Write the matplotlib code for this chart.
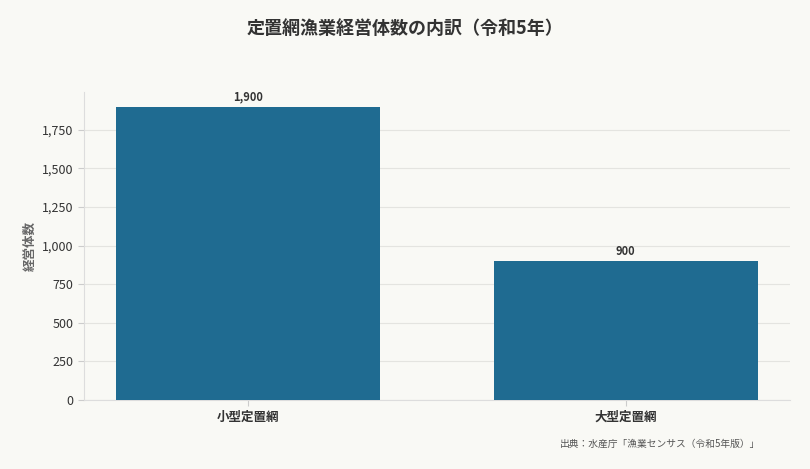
import matplotlib.pyplot as plt

plt.rcParams['font.family'] = ['Noto Sans CJK JP', 'DejaVu Sans']

categories = ['小型定置網', '大型定置網']
counts = [1900, 900]

fig = plt.figure(figsize=(8.1, 4.69), dpi=100, facecolor='#f9f9f5')
ax = fig.add_axes([84 / 810, 1 - 400 / 469, (790 - 84) / 810, (400 - 92) / 469])
ax.set_facecolor('#f9f9f5')

bars = ax.bar(categories, counts, width=0.7, color='#1f6b91', zorder=3)
for bar, v in zip(bars, counts):
    ax.text(bar.get_x() + bar.get_width() / 2, v + 20, f'{v:,}', ha='center', va='bottom',
            fontsize=8, fontweight='bold', color='#333333')

ax.set_ylim(0, 1995)
ax.yaxis.set_major_formatter(plt.FuncFormatter(lambda x, p: f'{int(x):,}'))
ax.grid(axis='y', color='#e4e4e0', linewidth=0.8, zorder=0)
for s in ['top', 'right']:
    ax.spines[s].set_visible(False)
for s in ['left', 'bottom']:
    ax.spines[s].set_color('#dddddd')
ax.tick_params(axis='y', labelsize=9, colors='#333333', length=4, color='#cccccc')
ax.tick_params(axis='x', labelsize=9, colors='#333333', length=4, color='#cccccc')
for lbl in ax.get_xticklabels():
    lbl.set_fontweight('bold')
ax.set_ylabel('経営体数', fontsize=9, fontweight='bold', color='#666666')

fig.suptitle('定置網漁業経営体数の内訳（令和5年）', y=0.96, fontsize=13, fontweight='bold', color='#333333')
fig.text(760 / 810, 1 - 444 / 469, '出典：水産庁「漁業センサス（令和5年版）」', ha='right', va='center',
         fontsize=7, color='#555555')

fig.savefig('out.png', dpi=100, facecolor=fig.get_facecolor())
